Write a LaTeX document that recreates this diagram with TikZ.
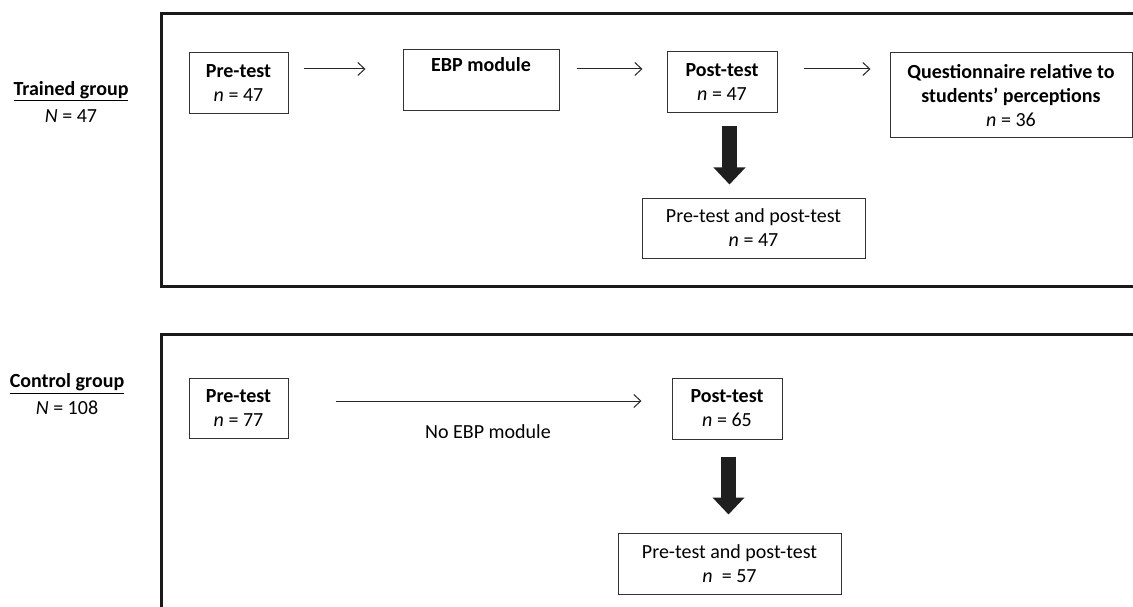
\documentclass[tikz,border=0pt]{standalone}
\usepackage{fontspec}
\setmainfont{Carlito}
\usetikzlibrary{arrows.meta}
\begin{document}
\begin{tikzpicture}[x=1pt,y=-1pt,
  every node/.style={font=\fontsize{20}{24}\selectfont},
  box/.style={draw=black!80, line width=1pt, inner sep=0pt, align=center},
  frame/.style={draw=black!90, line width=3.3pt},
  thinarr/.style={draw=black!85, line width=1pt, -{Straight Barb[length=7pt,width=13pt]}},
  bigarr/.style={draw=black!88, line width=15pt, -{Triangle[length=17pt,width=31pt]}},
  grp/.style={align=center, inner sep=0pt}
]
\clip (0,0) rectangle (1133,607);
\fill[white] (0,0) rectangle (1133,607);
% frames
\draw[frame] (1140,13.3) -- (161.7,13.3) -- (161.7,286.7) -- (1140,286.7);
\draw[frame] (1140,334.7) -- (161.7,334.7) -- (161.7,620);
% group labels
\node[grp] (tg) at (71,101.5) {\underline{\textbf{Trained group}}\\[3pt]\textit{N} = 47};
\node[grp] (cg) at (67,394.5) {\underline{\textbf{Control group}}\\[3pt]\textit{N} = 108};
% trained boxes
\node[box, minimum width=99pt, minimum height=61pt] (pre1) at (238.5,83.5) {\textbf{Pre-test}\\\textit{n} = 47};
\node[box, minimum width=156pt, minimum height=61pt] (ebp) at (481,80.5) {\textbf{EBP module}\\\strut};
\node[box, minimum width=110pt, minimum height=61pt] (post1) at (722,82.5) {\textbf{Post-test}\\\textit{n} = 47};
\node[box, minimum width=242pt, minimum height=85pt] (q) at (1011,95.5) {\textbf{Questionnaire relative to}\\\textbf{students’ perceptions}\\\textit{n} = 36};
\node[box, minimum width=223pt, minimum height=60pt] (pp1) at (753.5,228) {Pre-test and post-test\\\textit{n} = 47};
% control boxes
\node[box, minimum width=99pt, minimum height=60pt] (pre2) at (238.5,408) {\textbf{Pre-test}\\\textit{n} = 77};
\node[box, minimum width=110pt, minimum height=61pt] (post2) at (727,408.5) {\textbf{Post-test}\\\textit{n} = 65};
\node[box, minimum width=223pt, minimum height=61pt] (pp2) at (729.5,563.5) {Pre-test and post-test\\\textit{n}\ \ = 57};
\node[inner sep=0pt] (noebp) at (488,432) {No EBP module};
% thin arrows
\coordinate (ya) at (0,69);
\coordinate (yb) at (0,401);
\draw[thinarr, shorten <=15pt, shorten >=37pt] (pre1.east |- ya) -- (ebp.west |- ya);
\draw[thinarr, shorten <=17pt, shorten >=24pt] (ebp.east |- ya) -- (post1.west |- ya);
\draw[thinarr, shorten <=26pt, shorten >=19pt] (post1.east |- ya) -- (q.west |- ya);
\draw[thinarr, shorten <=47pt, shorten >=30pt] (pre2.east |- yb) -- (post2.west |- yb);
% big arrows
\coordinate (xa) at (729.5,0);
\coordinate (xb) at (728.5,0);
\draw[bigarr, shorten <=13pt, shorten >=13pt] (post1.south -| xa) -- (pp1.north -| xa);
\draw[bigarr, shorten <=17pt, shorten >=18pt] (post2.south -| xb) -- (pp2.north -| xb);
\end{tikzpicture}
\end{document}
